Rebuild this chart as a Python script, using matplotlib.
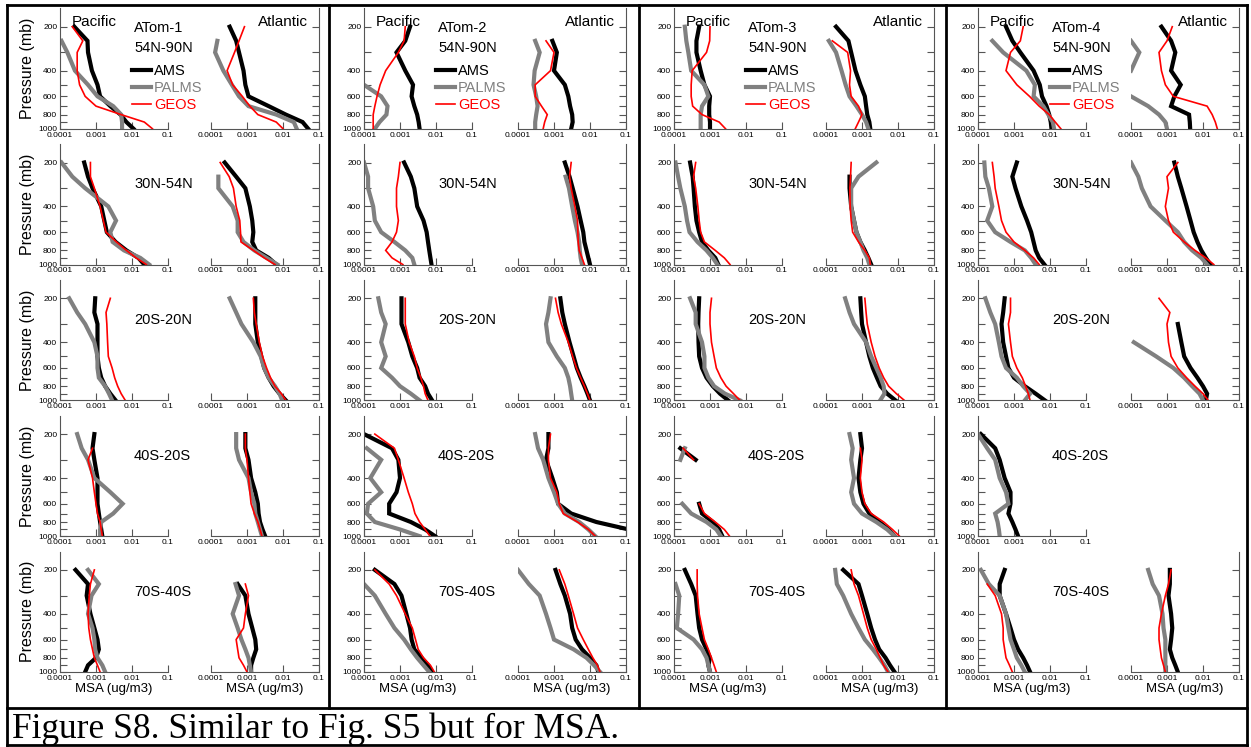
import numpy as np
import matplotlib
matplotlib.use('Agg')
import matplotlib.pyplot as plt
from matplotlib.lines import Line2D
from matplotlib.ticker import FixedLocator, FixedFormatter, NullLocator, NullFormatter

nan = float('nan')

# pressure levels (mb) shared by every profile
P = [200, 250, 300, 400, 500, 600, 700, 800, 900, 1000]
REGIONS = ['54N-90N', '30N-54N', '20S-20N', '40S-20S', '70S-40S']
CAMPAIGNS = ['ATom-1', 'ATom-2', 'ATom-3', 'ATom-4']

# MSA (ug/m3), one row per latitude band (top to bottom)
atom1_ams_pac = [
    [2.5e-4, 5.8e-4, 6.0e-4, 7.7e-4, 1.1e-3, 1.3e-3, 2.5e-3, 4.8e-3, 7.0e-3, 1.1e-2],
    [4.7e-4, 6.0e-4, 8.0e-4, 1.4e-3, 1.7e-3, 2.0e-3, 3.5e-3, 7.0e-3, 1.5e-2, 2.2e-2],
    [9.5e-4, 9.0e-4, 1.1e-3, 1.1e-3, 1.1e-3, 1.2e-3, 1.4e-3, 1.8e-3, 2.5e-3, 3.5e-3],
    [9.0e-4, 8.0e-4, 9.0e-4, 1.1e-3, 1.1e-3, 1.1e-3, 1.2e-3, 1.3e-3, 1.4e-3, 1.5e-3],
    [2.7e-4, 6.0e-4, 5.5e-4, 7.0e-4, 9.0e-4, 1.1e-3, 1.2e-3, 1.0e-3, 6.0e-4, 5.0e-4]]
atom1_palms_pac = [
    [nan, 1.1e-4, 1.6e-4, 2.6e-4, 6.0e-4, 1.1e-3, 3.0e-3, 5.0e-3, 5.3e-3, 5.3e-3],
    [1.1e-4, 2.2e-4, 5.0e-4, 2.2e-3, 3.6e-3, 2.5e-3, 2.9e-3, 6.0e-3, 1.7e-2, 3.0e-2],
    [1.8e-4, 3.0e-4, 5.0e-4, 9.0e-4, 1.1e-3, 1.1e-3, 1.2e-3, 1.8e-3, 2.3e-3, 2.8e-3],
    [3.0e-4, 4.0e-4, 6.0e-4, 9.0e-4, 2.5e-3, 5.5e-3, 3.0e-3, 1.4e-3, 1.3e-3, 1.3e-3],
    [6.0e-4, 1.2e-3, 7.5e-4, 6.0e-4, 8.0e-4, 9.0e-4, 9.5e-4, 1.1e-3, 1.5e-3, 1.8e-3]]
atom1_geos_pac = [
    [2.2e-4, 4.3e-4, 3.0e-4, 3.0e-4, 3.5e-4, 5.0e-4, 1.0e-3, 5.0e-3, 2.2e-2, 3.7e-2],
    [7.0e-4, 7.0e-4, 9.0e-4, 1.3e-3, 1.6e-3, 1.9e-3, 3.7e-3, 7.0e-3, 1.3e-2, 2.5e-2],
    [2.5e-3, 1.9e-3, 2.0e-3, 2.1e-3, 2.2e-3, 2.8e-3, 3.3e-3, 4.0e-3, 5.0e-3, 6.5e-3],
    [nan, 8.0e-4, 6.0e-4, 8.0e-4, 9.0e-4, 1.0e-3, 1.1e-3, 1.3e-3, 1.4e-3, 1.5e-3],
    [9.0e-4, 7.0e-4, 6.5e-4, 6.0e-4, 6.3e-4, 7.0e-4, 8.0e-4, 9.0e-4, 1.1e-3, 1.3e-3]]
atom1_ams_atl = [
    [3.3e-4, 5.0e-4, 6.0e-4, 8.0e-4, 9.0e-4, 1.1e-3, 4.0e-3, 1.2e-2, 3.5e-2, 5.0e-2],
    [2.4e-4, 5.0e-4, 9.0e-4, 1.2e-3, 1.4e-3, 1.5e-3, 1.4e-3, 1.8e-3, 4.0e-3, 6.5e-3],
    [1.7e-3, 1.7e-3, 1.7e-3, 2.0e-3, 2.5e-3, 3.0e-3, 4.0e-3, 5.5e-3, 8.0e-3, 1.2e-2],
    [9.0e-4, 9.0e-4, 1.1e-3, 1.3e-3, 1.7e-3, 2.0e-3, 2.1e-3, 2.3e-3, 2.7e-3, 3.2e-3],
    [nan, 5.5e-4, 9.0e-4, 1.1e-3, 1.4e-3, 1.7e-3, 1.8e-3, 1.5e-3, 1.3e-3, 1.3e-3]]
atom1_palms_atl = [
    [nan, 1.5e-4, 1.3e-4, 2.2e-4, 3.8e-4, 6.0e-4, 1.1e-3, 6.5e-3, 2.0e-2, 2.4e-2],
    [nan, 1.6e-4, 1.6e-4, 4.0e-4, 5.5e-4, 5.5e-4, 8.0e-4, 1.6e-3, 3.5e-3, 7.0e-3],
    [3.3e-4, 5.0e-4, 7.0e-4, 1.5e-3, 2.4e-3, 3.0e-3, 4.0e-3, 6.0e-3, 8.0e-3, 9.5e-3],
    [5.0e-4, 5.0e-4, 6.0e-4, 1.1e-3, 1.3e-3, 1.6e-3, 1.7e-3, 2.0e-3, 2.3e-3, 2.6e-3],
    [nan, 4.8e-4, 6.0e-4, 4.0e-4, 5.5e-4, 7.0e-4, 9.0e-4, 1.1e-3, 1.2e-3, 1.3e-3]]
atom1_geos_atl = [
    [8.5e-4, 6.0e-4, 4.5e-4, 2.8e-4, 4.0e-4, 7.4e-4, 1.2e-3, 2.0e-3, 6.5e-3, 1.0e-2],
    [1.8e-4, 3.2e-4, 4.2e-4, 5.0e-4, 6.3e-4, 6.6e-4, 6.8e-4, 1.5e-3, 3.0e-3, 6.0e-3],
    [1.5e-3, 1.6e-3, 1.8e-3, 2.2e-3, 2.7e-3, 3.5e-3, 4.5e-3, 6.0e-3, 9.0e-3, 1.2e-2],
    [9.0e-4, 9.0e-4, 1.0e-3, 1.1e-3, 1.2e-3, 1.3e-3, 1.6e-3, 2.0e-3, 2.3e-3, 2.6e-3],
    [nan, 9.0e-4, 1.1e-3, 9.0e-4, 8.0e-4, 5.0e-4, 5.5e-4, 6.0e-4, 8.0e-4, 1.0e-3]]

atom2_ams_pac = [
    [1.9e-3, 1.4e-3, 8.0e-4, 1.4e-3, 2.3e-3, 2.1e-3, 2.5e-3, 3.0e-3, 3.3e-3, 3.5e-3],
    [1.3e-3, 2.0e-3, 2.5e-3, 3.0e-3, 4.5e-3, 5.5e-3, 6.0e-3, 6.5e-3, 7.0e-3, 7.5e-3],
    [1.1e-3, 1.1e-3, 1.1e-3, 1.7e-3, 2.2e-3, 3.0e-3, 3.5e-3, 5.0e-3, 6.0e-3, 7.8e-3],
    [1.0e-4, 6.0e-4, 9.0e-4, 1.0e-3, 8.0e-4, 5.0e-4, 5.0e-4, 2.0e-3, 5.0e-3, 9.4e-3],
    [2.0e-4, 7.0e-4, 1.1e-3, 1.5e-3, 1.9e-3, 2.1e-3, 2.5e-3, 4.0e-3, 6.0e-3, 7.8e-3]]
atom2_palms_pac = [
    [nan, nan, nan, nan, 1.0e-4, 3.0e-4, 4.5e-4, 4.2e-4, 2.7e-4, 2.0e-4],
    [1.0e-4, 1.3e-4, 1.3e-4, 1.8e-4, 2.0e-4, 3.0e-4, 7.0e-4, 1.4e-3, 2.2e-3, 2.5e-3],
    [2.5e-4, 3.0e-4, 4.0e-4, 3.0e-4, 4.0e-4, 3.0e-4, 6.0e-4, 1.0e-3, 2.0e-3, 3.5e-3],
    [nan, 1.2e-4, 3.0e-4, 1.5e-4, 3.0e-4, 1.3e-4, 1.2e-4, 2.0e-4, 1.0e-3, 3.5e-3],
    [nan, 1.0e-4, 2.0e-4, 4.0e-4, 7.0e-4, 1.3e-3, 2.0e-3, 3.0e-3, 4.5e-3, 6.5e-3]]
atom2_geos_pac = [
    [1.4e-3, 1.3e-3, 9.0e-4, 4.0e-4, 2.8e-4, 2.3e-4, 2.0e-4, 1.8e-4, 1.8e-4, 1.8e-4],
    [1.0e-3, 9.0e-4, 8.0e-4, 8.0e-4, 9.0e-4, 8.0e-4, 6.0e-4, 4.0e-4, 6.0e-4, 1.2e-3],
    [1.4e-3, 1.4e-3, 1.4e-3, 1.8e-3, 2.5e-3, 3.0e-3, 3.8e-3, 4.5e-3, 5.0e-3, 6.0e-3],
    [2.0e-4, 7.0e-4, 9.0e-4, 1.3e-3, 1.7e-3, 2.2e-3, 2.6e-3, 3.5e-3, 5.0e-3, 6.8e-3],
    [2.0e-4, 5.0e-4, 8.0e-4, 1.4e-3, 2.2e-3, 2.7e-3, 3.2e-3, 4.5e-3, 7.0e-3, 9.0e-3]]
atom2_ams_atl = [
    [nan, 9.0e-4, 1.2e-3, 1.0e-3, 2.0e-3, 2.5e-3, 2.8e-3, 3.2e-3, 3.3e-3, 3.0e-3],
    [2.0e-3, 2.7e-3, 3.3e-3, 4.5e-3, 5.5e-3, 6.5e-3, 7.0e-3, 8.0e-3, 9.0e-3, 1.0e-2],
    [1.5e-3, 1.7e-3, 2.0e-3, 2.7e-3, 3.5e-3, 4.3e-3, 5.5e-3, 7.0e-3, 8.5e-3, 1.0e-2],
    [7.0e-4, 7.0e-4, 6.0e-4, 9.0e-4, 1.2e-3, 1.3e-3, 3.0e-3, 1.5e-2, 1.2e-1, nan],
    [1.1e-3, 1.5e-3, 2.0e-3, 2.8e-3, 3.2e-3, 4.0e-3, 6.0e-3, 1.0e-2, 1.5e-2, 1.7e-2]]
atom2_palms_atl = [
    [nan, 3.0e-4, 4.0e-4, 2.9e-4, 2.7e-4, 3.2e-4, 3.5e-4, 3.2e-4, 3.0e-4, 3.0e-4],
    [nan, 2.1e-3, 2.6e-3, 3.2e-3, 3.8e-3, 4.5e-3, 5.0e-3, 5.2e-3, 5.5e-3, 6.0e-3],
    [8.0e-4, 7.0e-4, 6.0e-4, 7.0e-4, 1.2e-3, 2.0e-3, 2.5e-3, 2.8e-3, 3.0e-3, 3.2e-3],
    [3.0e-4, 3.6e-4, 5.0e-4, 7.0e-4, 1.0e-3, 1.3e-3, 2.0e-3, 5.0e-3, 9.0e-3, 1.4e-2],
    [1.0e-4, 2.0e-4, 4.0e-4, 6.0e-4, 8.0e-4, 1.0e-3, 3.5e-3, 8.0e-3, 1.3e-2, 1.9e-2]]
atom2_geos_atl = [
    [nan, 6.0e-4, 1.0e-3, 8.0e-4, 3.0e-4, 3.0e-4, 4.5e-4, 6.5e-4, 5.5e-4, 5.0e-4],
    [3.0e-3, 2.7e-3, 3.0e-3, 3.8e-3, 4.5e-3, 4.6e-3, 4.7e-3, 5.0e-3, 6.0e-3, 7.0e-3],
    [1.1e-3, 1.3e-3, 1.6e-3, 2.5e-3, 3.3e-3, 4.2e-3, 5.5e-3, 7.0e-3, 8.5e-3, 1.0e-2],
    [8.0e-4, 7.0e-4, 7.0e-4, 8.0e-4, 1.2e-3, 1.4e-3, 1.8e-3, 4.5e-3, 9.0e-3, 1.4e-2],
    [1.4e-3, 2.0e-3, 2.5e-3, 3.5e-3, 4.5e-3, 6.5e-3, 9.0e-3, 1.2e-2, 1.6e-2, 1.9e-2]]

atom3_ams_pac = [
    [5.0e-4, 4.2e-4, 4.2e-4, 5.5e-4, 7.0e-4, 1.0e-3, 9.5e-4, 9.5e-4, 1.0e-3, 1.0e-3],
    [2.8e-4, 3.3e-4, 3.5e-4, 3.8e-4, 4.2e-4, 5.0e-4, 6.0e-4, 9.0e-4, 1.4e-3, 1.7e-3],
    [5.0e-4, 4.8e-4, 4.7e-4, 4.8e-4, 5.0e-4, 6.0e-4, 8.0e-4, 1.2e-3, 1.9e-3, 3.2e-3],
    [nan, 1.5e-4, 4.0e-4, nan, nan, 5.0e-4, 6.0e-4, 1.2e-3, 1.8e-3, 2.2e-3],
    [2.0e-4, 3.0e-4, 4.0e-4, 4.5e-4, 5.0e-4, 6.0e-4, 8.0e-4, 1.0e-3, 9.0e-4, 1.0e-3]]
atom3_palms_pac = [
    [2.0e-4, 2.2e-4, 2.5e-4, 3.0e-4, 7.0e-4, 9.0e-4, 6.0e-4, 5.5e-4, 5.5e-4, 5.5e-4],
    [1.1e-4, 1.3e-4, 1.5e-4, 2.0e-4, 2.3e-4, 2.7e-4, 4.5e-4, 8.0e-4, 1.2e-3, 1.6e-3],
    [2.8e-4, 4.0e-4, 4.0e-4, 6.0e-4, 7.0e-4, 7.0e-4, 9.0e-4, 1.3e-3, 2.6e-3, 6.8e-3],
    [nan, 2.0e-4, 1.5e-4, nan, nan, 1.7e-4, 3.0e-4, 8.0e-4, 1.5e-3, 2.0e-3],
    [nan, 1.1e-4, 1.4e-4, 1.3e-4, 1.2e-4, 3.5e-4, 6.0e-4, 8.0e-4, 9.0e-4, 1.0e-3]]
atom3_geos_pac = [
    [1.0e-3, 9.8e-4, 8.0e-4, 3.2e-4, 3.0e-4, 3.0e-4, 3.3e-4, 6.0e-4, 1.8e-3, 2.7e-3],
    [4.0e-4, 3.5e-4, 4.0e-4, 4.6e-4, 5.0e-4, 5.5e-4, 7.0e-4, 1.4e-3, 2.5e-3, 3.6e-3],
    [1.1e-3, 1.0e-3, 1.0e-3, 1.1e-3, 1.3e-3, 1.5e-3, 2.0e-3, 2.8e-3, 4.5e-3, 6.8e-3],
    [nan, 1.8e-4, 3.5e-4, nan, nan, 5.0e-4, 7.0e-4, 1.4e-3, 2.5e-3, 3.5e-3],
    [4.4e-4, 4.4e-4, 4.5e-4, 5.0e-4, 6.0e-4, 7.0e-4, 9.0e-4, 1.1e-3, 1.3e-3, 1.5e-3]]
atom3_ams_atl = [
    [1.9e-4, 4.2e-4, 5.0e-4, 6.6e-4, 9.0e-4, 1.2e-3, 1.3e-3, 1.4e-3, 1.6e-3, 1.7e-3],
    [nan, 4.5e-4, 4.5e-4, 5.0e-4, 6.0e-4, 7.0e-4, 9.0e-4, 1.2e-3, 1.5e-3, 1.8e-3],
    [9.0e-4, 9.5e-4, 1.0e-3, 1.3e-3, 1.6e-3, 2.0e-3, 2.6e-3, 3.3e-3, 5.0e-3, 8.5e-3],
    [9.0e-4, 1.0e-3, 9.0e-4, 8.0e-4, 9.0e-4, 1.1e-3, 1.6e-3, 3.0e-3, 5.5e-3, 8.0e-3],
    [3.0e-4, 8.0e-4, 1.0e-3, 1.4e-3, 1.8e-3, 2.3e-3, 3.0e-3, 4.5e-3, 6.0e-3, 8.0e-3]]
atom3_palms_atl = [
    [nan, 1.2e-4, 1.9e-4, 2.7e-4, 3.5e-4, 4.5e-4, 7.0e-4, 1.0e-3, 1.3e-3, 1.5e-3],
    [2.5e-3, 8.0e-4, 5.0e-4, 5.0e-4, 6.0e-4, 7.0e-4, 9.0e-4, 1.1e-3, 1.4e-3, 1.6e-3],
    [3.4e-4, 4.5e-4, 6.0e-4, 1.3e-3, 1.8e-3, 2.5e-3, 3.3e-3, 4.0e-3, 4.2e-3, 3.2e-3],
    [4.5e-4, 5.5e-4, 5.0e-4, 6.0e-4, 5.0e-4, 6.0e-4, 1.0e-3, 2.5e-3, 5.0e-3, 8.0e-3],
    [1.8e-4, 2.0e-4, 3.0e-4, 5.0e-4, 8.0e-4, 1.2e-3, 2.0e-3, 3.0e-3, 4.2e-3, 5.3e-3]]
atom3_geos_atl = [
    [nan, 1.5e-4, 4.0e-4, 4.8e-4, 4.5e-4, 5.0e-4, 8.0e-4, 1.0e-3, 8.0e-4, 6.5e-4],
    [5.0e-4, 4.8e-4, 4.6e-4, 4.7e-4, 5.0e-4, 5.5e-4, 8.0e-4, 1.2e-3, 1.6e-3, 1.7e-3],
    [1.2e-3, 1.3e-3, 1.4e-3, 1.8e-3, 2.3e-3, 3.0e-3, 4.0e-3, 5.5e-3, 9.0e-3, 1.5e-2],
    [nan, 9.0e-4, 1.0e-3, 9.0e-4, 1.0e-3, 1.2e-3, 1.8e-3, 4.0e-3, 7.0e-3, 1.1e-2],
    [5.0e-4, 6.0e-4, 8.0e-4, 1.1e-3, 1.4e-3, 1.8e-3, 2.5e-3, 3.2e-3, 4.0e-3, 5.3e-3]]

atom4_ams_pac = [
    [6.0e-4, 9.0e-4, 1.5e-3, 3.5e-3, 5.2e-3, 6.0e-3, 8.0e-3, 9.5e-3, 1.05e-2, 1.1e-2],
    [1.2e-3, 9.0e-4, 1.1e-3, 1.6e-3, 2.3e-3, 3.0e-3, 3.5e-3, 4.0e-3, 5.0e-3, 7.0e-3],
    [5.5e-4, 5.0e-4, 4.5e-4, 5.0e-4, 6.0e-4, 7.0e-4, 1.0e-3, 2.0e-3, 4.0e-3, 7.2e-3],
    [1.2e-4, 3.0e-4, 4.0e-4, 5.5e-4, 8.0e-4, 8.0e-4, 7.0e-4, 9.0e-4, 1.1e-3, 1.3e-3],
    [5.5e-4, 4.0e-4, 4.0e-4, 6.0e-4, 8.0e-4, 1.0e-3, 1.3e-3, 1.8e-3, 2.3e-3, 2.8e-3]]
atom4_palms_pac = [
    [nan, 2.5e-4, 5.0e-4, 2.2e-3, 3.8e-3, 3.5e-3, 6.5e-3, 9.0e-3, 1.2e-2, 1.3e-2],
    [1.5e-4, 1.6e-4, 2.0e-4, 2.5e-4, 1.8e-4, 3.0e-4, 8.0e-4, 2.0e-3, 3.0e-3, 4.0e-3],
    [1.6e-4, 2.2e-4, 3.0e-4, 3.8e-4, 4.5e-4, 6.0e-4, 1.2e-3, 1.8e-3, 2.8e-3, 2.0e-3],
    [1.0e-4, 1.8e-4, 3.0e-4, 4.0e-4, 6.0e-4, 7.0e-4, 3.0e-4, 3.5e-4, 3.8e-4, 4.0e-4],
    [1.2e-4, 2.0e-4, 4.0e-4, 6.0e-4, 7.0e-4, 8.0e-4, 1.0e-3, 1.2e-3, 1.6e-3, 2.0e-3]]
atom4_geos_pac = [
    [1.8e-3, 1.5e-3, 8.0e-4, 6.0e-4, 1.2e-3, 2.7e-3, 5.0e-3, 9.5e-3, 1.4e-2, 2.0e-2],
    [2.5e-4, 2.8e-4, 3.0e-4, 3.8e-4, 4.5e-4, 6.0e-4, 1.0e-3, 2.0e-3, 3.5e-3, 5.0e-3],
    [8.0e-4, 8.0e-4, 7.0e-4, 8.0e-4, 9.0e-4, 1.2e-3, 1.7e-3, 2.1e-3, 2.5e-3, 2.8e-3],
    [nan] * 10,
    [nan, 1.8e-4, 3.0e-4, 4.5e-4, 5.0e-4, 5.0e-4, 5.5e-4, 6.0e-4, 7.5e-4, 9.0e-4]]
atom4_ams_atl = [
    [7.0e-4, 1.3e-3, 1.7e-3, 1.3e-3, 2.4e-3, 1.6e-3, 1.3e-3, 4.1e-3, 4.3e-3, 4.4e-3],
    [1.6e-3, 2.0e-3, 2.5e-3, 3.5e-3, 4.5e-3, 5.5e-3, 7.0e-3, 9.0e-3, 1.2e-2, 1.6e-2],
    [nan, nan, 2.0e-3, 2.5e-3, 3.0e-3, 4.5e-3, 7.0e-3, 1.0e-2, 1.3e-2, 1.2e-2],
    [nan] * 10,
    [1.2e-3, 1.2e-3, 1.1e-3, 1.3e-3, 1.4e-3, 1.3e-3, 1.2e-3, 1.4e-3, 1.7e-3, 2.0e-3]]
atom4_palms_atl = [
    [nan, 1.0e-4, 1.7e-4, 1.0e-4, nan, 1.0e-4, 3.0e-4, 6.0e-4, 9.0e-4, 1.0e-3],
    [1.0e-4, 1.6e-4, 2.0e-4, 3.5e-4, 9.0e-4, 2.0e-3, 3.0e-3, 5.0e-3, 9.0e-3, 1.3e-2],
    [nan, nan, nan, 1.2e-4, 5.0e-4, 1.5e-3, 3.0e-3, 5.0e-3, 8.0e-3, 1.0e-2],
    [nan] * 10,
    [3.0e-4, 4.0e-4, 6.0e-4, 7.5e-4, 8.0e-4, 9.0e-4, 9.0e-4, 9.0e-4, 9.0e-4, 9.0e-4]]
atom4_geos_atl = [
    [1.4e-3, 1.0e-3, 6.0e-4, 7.0e-4, 9.0e-4, 1.5e-3, 1.3e-2, 1.8e-2, 2.2e-2, 2.5e-2],
    [2.0e-3, 1.0e-3, 1.1e-3, 9.0e-4, 1.1e-3, 1.5e-3, 3.0e-3, 6.0e-3, 1.2e-2, 2.0e-2],
    [6.0e-4, 1.2e-3, 1.0e-3, 1.1e-3, 1.3e-3, 2.0e-3, 3.5e-3, 6.0e-3, 1.0e-2, 1.4e-2],
    [nan] * 10,
    [1.3e-3, 1.1e-3, 9.0e-4, 7.0e-4, 6.0e-4, 6.0e-4, 6.5e-4, 7.0e-4, 8.0e-4, 9.0e-4]]

# (ams, palms, geos) per campaign and basin
profiles = {
    (0, 'Pacific'): (atom1_ams_pac, atom1_palms_pac, atom1_geos_pac),
    (0, 'Atlantic'): (atom1_ams_atl, atom1_palms_atl, atom1_geos_atl),
    (1, 'Pacific'): (atom2_ams_pac, atom2_palms_pac, atom2_geos_pac),
    (1, 'Atlantic'): (atom2_ams_atl, atom2_palms_atl, atom2_geos_atl),
    (2, 'Pacific'): (atom3_ams_pac, atom3_palms_pac, atom3_geos_pac),
    (2, 'Atlantic'): (atom3_ams_atl, atom3_palms_atl, atom3_geos_atl),
    (3, 'Pacific'): (atom4_ams_pac, atom4_palms_pac, atom4_geos_pac),
    (3, 'Atlantic'): (atom4_ams_atl, atom4_palms_atl, atom4_geos_atl),
}
styles = [('AMS', 'black', 3.0), ('PALMS', '#808080', 3.0), ('GEOS', 'red', 1.2)]

# layout in pixels
W, H = 1251, 747
PAC_X = [60, 364, 674, 978]
ATL_X = [211, 518, 826, 1131]
PANEL_W = 108
Y200 = 26.7
ROW_STEP = 135.8
PX_DECADE = 146.0
P_TOP, P_BOT = 150, 1000

plt.rcParams['font.family'] = ['Liberation Sans', 'DejaVu Sans']
fig = plt.figure(figsize=(W / 100, H / 100), dpi=100)


def fx(x):
    return x / W


def fy(y):
    return 1 - y / H


def make_panel(x0, row, side):
    y200 = Y200 + ROW_STEP * row
    top = y200 - PX_DECADE * np.log10(200 / P_TOP)
    bot = y200 + PX_DECADE * np.log10(P_BOT / 200)
    ax = fig.add_axes([fx(x0), fy(bot), PANEL_W / W, (bot - top) / H])
    ax.set_xscale('log')
    ax.set_yscale('log')
    ax.set_xlim(1e-4, 1e-1)
    ax.set_ylim(P_BOT, P_TOP)
    ax.patch.set_visible(False)
    for s in ['top', 'left', 'right']:
        ax.spines[s].set_visible(False)
    ax.spines[side].set_visible(True)
    for s in ax.spines.values():
        s.set_color('#555555')
        s.set_linewidth(0.8)
    ax.xaxis.set_major_locator(FixedLocator([1e-4, 1e-3, 1e-2, 1e-1]))
    ax.xaxis.set_major_formatter(FixedFormatter(['0.0001', '0.001', '0.01', '0.1']))
    ax.xaxis.set_minor_locator(NullLocator())
    ax.yaxis.set_major_locator(FixedLocator([200, 400, 600, 800, 1000]))
    ax.yaxis.set_major_formatter(FixedFormatter(['200', '400', '600', '800', '1000']))
    ax.yaxis.set_minor_locator(FixedLocator([300, 500, 700, 900]))
    ax.yaxis.set_minor_formatter(NullFormatter())
    ax.yaxis.set_ticks_position(side)
    if side == 'right':
        ax.tick_params(axis='y', labelright=False)
    ax.tick_params(which='both', direction='in', length=5, width=0.8,
                   color='#555555', labelsize=6, pad=2)
    return ax


for c in range(4):
    for r in range(5):
        for basin, x0, side in [('Pacific', PAC_X[c], 'left'), ('Atlantic', ATL_X[c], 'right')]:
            series = profiles[(c, basin)]
            if all(np.isnan(s[r]).all() for s in series):
                continue
            ax = make_panel(x0, r, side)
            handles = []
            for vals, (name, color, lw) in zip(series, styles):
                h, = ax.plot(vals[r], P, color=color, lw=lw, label=name,
                             solid_joinstyle='miter')
                handles.append(h)
            if r == 4:
                ax.set_xlabel('MSA (ug/m3)', fontsize=9.5, labelpad=1)
            if c == 0 and side == 'left':
                ax.set_ylabel('Pressure (mb)', fontsize=11.5, labelpad=2)
            if r == 0 and side == 'left':
                ax.legend(handles, [s[0] for s in styles], loc='upper left',
                          bbox_to_anchor=(fx(x0 + 72), fy(64)),
                          bbox_transform=fig.transFigure, frameon=False,
                          fontsize=10.5, handlelength=1.3, handletextpad=0.2,
                          labelspacing=0.22, borderpad=0, borderaxespad=0,
                          labelcolor='linecolor')

    # campaign name and latitude bands, written once per column
    tx = PAC_X[c] + 74
    fig.text(fx(tx), fy(27.5), CAMPAIGNS[c], fontsize=10.5, va='center')
    fig.text(fx(tx), fy(47.5), REGIONS[0], fontsize=10.5, va='center')
    for r in range(1, 5):
        fig.text(fx(tx), fy(Y200 + ROW_STEP * r + 22), REGIONS[r],
                 fontsize=10.5, va='center')
    fig.text(fx(PAC_X[c] + 12), fy(22), 'Pacific', fontsize=11, va='center')
    fig.text(fx(ATL_X[c] + PANEL_W - 11), fy(22), 'Atlantic', fontsize=11,
             va='center', ha='right')

# table borders around the panels and the caption
border = dict(transform=fig.transFigure, color='black', lw=2)
for (x1, y1, x2, y2) in [(7, 5, 1247, 5), (7, 708, 1247, 708), (7, 745, 1247, 745),
                         (7, 5, 7, 745), (1247, 5, 1247, 745),
                         (329, 5, 329, 708), (639, 5, 639, 708), (946, 5, 946, 708)]:
    fig.add_artist(Line2D([fx(x1), fx(x2)], [fy(y1), fy(y2)], **border))

fig.text(fx(12), fy(738), 'Figure S8. Similar to Fig. S5 but for MSA.',
         family='Liberation Serif', fontsize=25.5, va='baseline')

fig.savefig('out.png', dpi=100)
